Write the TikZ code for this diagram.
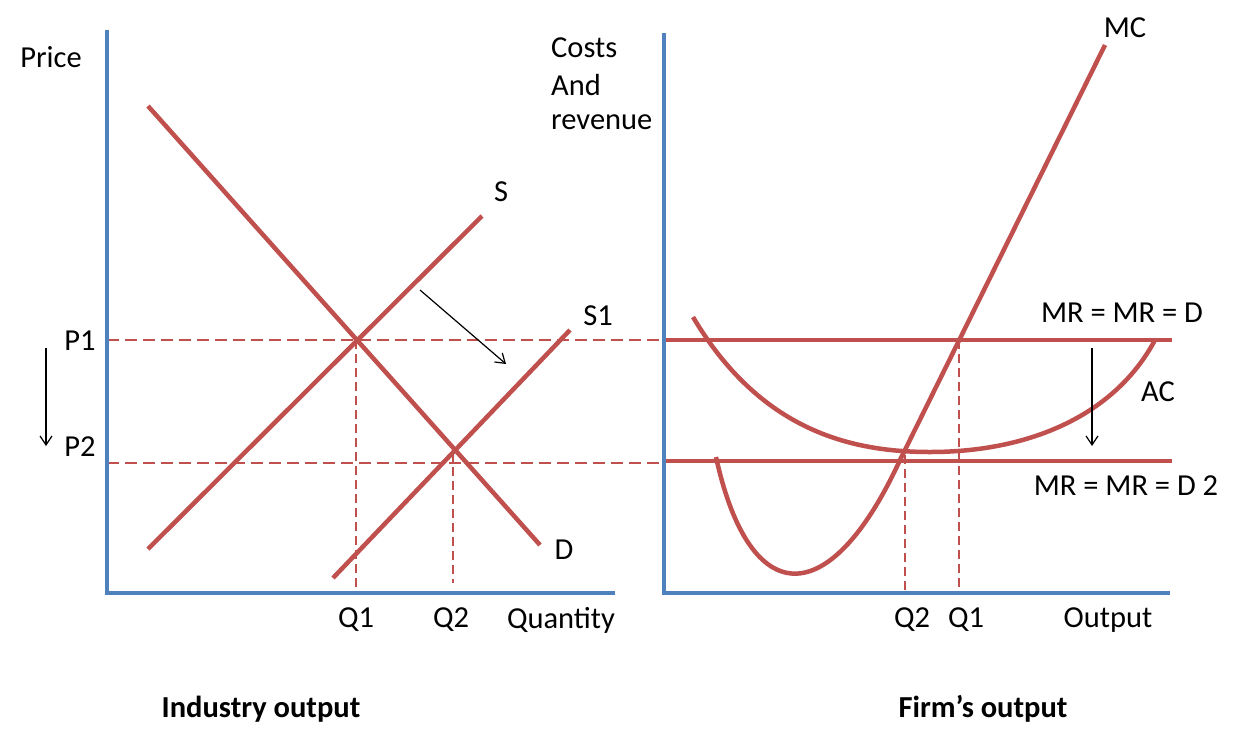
\documentclass[tikz,border=0pt]{standalone}
\usepackage{fontspec}
\setmainfont{Carlito}
\usetikzlibrary{arrows.meta}
\definecolor{axisblue}{HTML}{4F81BD}
\definecolor{curvered}{HTML}{C0504D}
\begin{document}
\begin{tikzpicture}[x=1pt,y=-1pt,
  axis/.style={draw=axisblue,line width=4.5pt},
  curve/.style={draw=curvered,line width=4.5pt},
  guide/.style={draw=curvered,line width=1.6pt,dash pattern=on 12pt off 6pt},
  vguide/.style={draw=curvered,line width=1.4pt,dash pattern=on 9pt off 5pt},
  movearrow/.style={draw=black,line width=1.2pt,-{Straight Barb[length=9pt,width=12pt]}},
  lbl/.style={font=\fontsize{30.5}{36}\selectfont,inner sep=0pt},
  ttl/.style={font=\fontsize{30.5}{36}\selectfont\bfseries,inner sep=0pt}]
\useasboundingbox (0,0) rectangle (1239,745);
% ---------- left panel ----------
\coordinate (Ltop) at (107,30);
\coordinate (Lorig) at (107,593);
\coordinate (Lend) at (615,593);
\coordinate (P1a) at (107,340);
\coordinate (P1b) at (664,340);
\coordinate (P2a) at (107,463);
\coordinate (P2b) at (664,463);
\coordinate (E1) at (356,340);
\coordinate (E2) at (453,453);
\coordinate (Q1b) at (356,593);
\coordinate (Q2b) at (453,583);
\draw[guide] (P1a) -- (P1b);
\draw[guide] (P2a) -- (P2b);
\draw[vguide] (E1) -- (Q1b);
\draw[vguide] (E2) -- (Q2b);
\coordinate (Da) at (148,106); \coordinate (Db) at (540,545);
\coordinate (Sa) at (148,549); \coordinate (Sb) at (482,216);
\coordinate (S1a) at (333,578); \coordinate (S1b) at (570,330);
\draw[curve] (Da) -- (Db);
\draw[curve] (Sa) -- (Sb);
\draw[curve] (S1a) -- (S1b);
\draw[axis] (Ltop) -- (Lorig) -- (Lend);
\coordinate (ArA) at (420,290); \coordinate (ArB) at (506,364);
\draw[movearrow] (ArA) -- (ArB);
\coordinate (PA) at (46,348); \coordinate (PB) at (46,446);
\draw[movearrow] (PA) -- (PB);
\node[lbl] (price) at (51,57) {Price};
\node[lbl] (p1) at (80,341) {P1};
\node[lbl] (p2) at (80,447) {P2};
\node[lbl] (q1) at (356,620) {Q1};
\node[lbl] (q2) at (451,620) {Q2};
\node[lbl] (qty) at (561,620) {Quantity};
\node[lbl] (s) at (501,192) {S};
\node[lbl] (s1) at (598,316) {S1};
\node[lbl] (d) at (564,550) {D};
\node[ttl] (ind) at (261,709) {Industry output};
% ---------- right panel ----------
\coordinate (Rtop) at (664,33);
\coordinate (Rorig) at (664,593);
\coordinate (Rend) at (1170,593);
\coordinate (MRa) at (664,340); \coordinate (MRb) at (1172,340);
\coordinate (MR2a) at (664,461); \coordinate (MR2b) at (1172,461);
\coordinate (F1) at (959,340); \coordinate (F1b) at (959,593);
\coordinate (F2) at (905,455); \coordinate (F2b) at (905,593);
\draw[vguide] (F1) -- (F1b);
\draw[vguide] (F2) -- (F2b);
\draw[curve] (MRa) -- (MRb);
\draw[curve] (MR2a) -- (MR2b);
\coordinate (ACa) at (693,317);
\coordinate (ACm) at (930,452);
\coordinate (ACb) at (1155,340);
\draw[curve] (ACa) .. controls (760,430) and (850,452) .. (ACm)
  .. controls (1030,452) and (1115,415) .. (ACb);
\coordinate (MCa) at (716,457);
\coordinate (MCm) at (900,460);
\coordinate (MCb) at (1105,45);
\draw[curve] (MCa) .. controls (750,612) and (830,612) .. (MCm) -- (MCb);
\draw[axis] (Rtop) -- (Rorig) -- (Rend);
\coordinate (RA) at (1092,348); \coordinate (RB) at (1092,446);
\draw[movearrow] (RA) -- (RB);
\node[lbl,anchor=west] (cr1) at (551,48) {Costs};
\node[lbl,anchor=west] (cr2) at (551,85) {And};
\node[lbl,anchor=west] (cr3) at (551,122) {revenue};
\node[lbl] (mc) at (1125,28) {MC};
\node[lbl] (mr1) at (1122,313) {MR = MR = D};
\node[lbl] (ac) at (1158,392) {AC};
\node[lbl] (mr2) at (1126,486) {MR = MR = D 2};
\node[lbl] (fq2) at (912,620) {Q2};
\node[lbl] (fq1) at (966,620) {Q1};
\node[lbl] (out) at (1108,620) {Output};
\node[ttl] (firm) at (983,709) {Firm’s output};
\end{tikzpicture}
\end{document}
